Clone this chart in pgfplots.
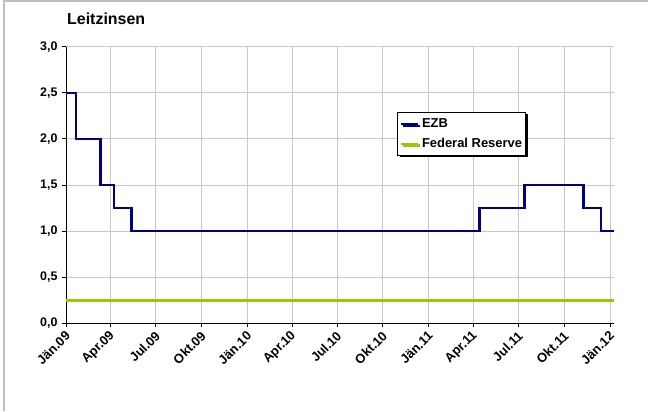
\documentclass[border=0pt]{standalone}
\usepackage{pgfplots}
\pgfplotsset{compat=1.18}
\usepackage{fontspec}
\setmainfont{Liberation Sans}
\usetikzlibrary{shadows}
\definecolor{ezb}{HTML}{000080}
\definecolor{fed}{HTML}{99CC00}
\definecolor{gridc}{HTML}{C8C8C8}
\definecolor{framec}{HTML}{BEBEBE}
\begin{document}
\begin{tikzpicture}[x=1bp,y=1bp]
\useasboundingbox (0,0) rectangle (648,411);
\draw[framec, line width=2bp] (4,0) -- (4,410) -- (648,410);
\node[anchor=base west, font=\fontsize{16}{18}\selectfont\bfseries, inner sep=0] at (67,387) {Leitzinsen};
\begin{axis}[
  at={(66bp,88bp)}, anchor=south west, scale only axis,
  width=548bp, height=276bp,
  xmin=0, xmax=1103, ymin=0, ymax=3,
  axis lines*=left,
  axis line style={black, line width=1bp},
  tick style={black, line width=1bp},
  major tick length=4bp, tick align=outside,
  grid=major, major grid style={gridc, line width=1bp},
  ytick={0,0.5,1,1.5,2,2.5,3},
  /pgf/number format/fixed,
  /pgf/number format/fixed zerofill,
  /pgf/number format/precision=1,
  /pgf/number format/use comma,
  /pgf/number format/assume math mode=true,
  yticklabel style={font=\fontsize{12.5}{14}\selectfont\bfseries, anchor=east, xshift=-1bp},
  xtick={0,90,181,273,365,455,546,638,730,820,911,1003,1095},
  xticklabels={Jän.09,Apr.09,Jul.09,Okt.09,Jän.10,Apr.10,Jul.10,Okt.10,Jän.11,Apr.11,Jul.11,Okt.11,Jän.12},
  xticklabel style={font=\fontsize{13}{15}\selectfont\bfseries, rotate=45, anchor=east, xshift=0bp, yshift=-6bp},
  legend style={at={(0.604,0.7645)}, anchor=north west, draw=black, line width=1bp, fill=white,
    drop shadow={shadow xshift=2bp, shadow yshift=-2bp, fill=black, opacity=1},
    font=\fontsize{13}{15}\selectfont\bfseries, inner xsep=2bp, inner ysep=4bp,
    nodes={inner sep=1.5bp, text height=9.5bp, text depth=2.5bp}, row sep=5bp, column sep=2bp},
  legend cell align=left,
  legend image code/.code={\draw[#1, line width=2bp] (0bp,0bp) -- (17bp,0bp);},
]
\addplot[const plot, ezb, line width=2.5bp, mark=none] coordinates {
  (0,2.5) (20,2.0) (69,1.5) (97,1.25) (132,1.0) (832,1.25) (923,1.5) (1042,1.25) (1077,1.0) (1103,1.0)
};
\addlegendentry{EZB}
\addplot[fed, line width=3bp, mark=none] coordinates {
  (0,0.25) (1103,0.25)
};
\addlegendentry{Federal Reserve}
\end{axis}
\end{tikzpicture}
\end{document}
